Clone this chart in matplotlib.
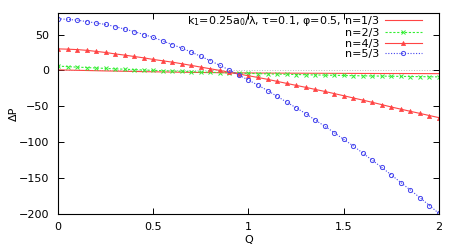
import numpy as np
import matplotlib
matplotlib.use("Agg")
import matplotlib.pyplot as plt

plt.rcParams['font.family'] = ['DejaVu Sans']
plt.rcParams['mathtext.fontset'] = 'dejavusans'
plt.rcParams['font.size'] = 8

# Q grid
q = [0.0, 0.05, 0.1, 0.15, 0.2, 0.25, 0.3, 0.35, 0.4, 0.45, 0.5, 0.55, 0.6, 0.65,
     0.7, 0.75, 0.8, 0.85, 0.9, 0.95, 1.0, 1.05, 1.1, 1.15, 1.2, 1.25, 1.3, 1.35,
     1.4, 1.45, 1.5, 1.55, 1.6, 1.65, 1.7, 1.75, 1.8, 1.85, 1.9, 1.95, 2.0]

dp_n13 = [0.8, 0.5, 0.2, -0.1, -0.4, -0.7, -0.9, -1.2, -1.4, -1.7, -1.9, -2.1, -2.3,
          -2.5, -2.7, -2.85, -3.0, -3.15, -3.3, -3.4, -3.5, -3.6, -3.7, -3.75, -3.8,
          -3.85, -3.9, -3.95, -4.0, -4.05, -4.1, -4.15, -4.2, -4.25, -4.3, -4.3, -4.3,
          -4.35, -4.4, -4.45, -4.5]
dp_n23 = [6.0, 5.3, 4.6, 4.0, 3.4, 2.8, 2.2, 1.7, 1.1, 0.6, 0.1, -0.4, -0.9, -1.3,
          -1.8, -2.2, -2.6, -3.0, -3.4, -3.8, -4.1, -4.5, -4.8, -5.1, -5.4, -5.7,
          -6.0, -6.3, -6.5, -6.8, -7.0, -7.3, -7.5, -7.7, -7.9, -8.1, -8.3, -8.5,
          -8.6, -8.8, -9.0]
dp_n43 = [30.0, 29.6, 29.0, 28.0, 26.5, 25.0, 23.0, 21.3, 19.4, 17.5, 15.3, 13.4,
          11.5, 9.3, 7.0, 4.6, 2.3, 0.0, -2.6, -5.0, -7.4, -9.8, -12.4, -15.2, -18.0,
          -20.8, -23.5, -26.4, -29.2, -32.2, -35.2, -38.3, -41.3, -44.4, -47.6,
          -50.9, -53.9, -56.9, -59.8, -62.8, -65.7]
dp_n53 = [72.0, 71.0, 70.0, 68.0, 66.0, 64.0, 61.0, 57.5, 54.0, 50.0, 46.0, 41.0,
          36.0, 31.0, 25.5, 19.5, 13.5, 7.0, 0.5, -6.5, -13.5, -20.5, -28.0, -36.0,
          -44.0, -52.0, -60.0, -69.0, -77.5, -86.5, -96.0, -105.0, -115.0, -125.0,
          -135.0, -145.5, -156.0, -166.5, -177.0, -188.0, -199.0]

xticks = [0, 0.5, 1, 1.5, 2]
xticklabels = ['0', '0.5', '1', '1.5', '2']
yticks = [50, 0, -50, -100, -150, -200]

fig = plt.figure(figsize=(4.64, 2.49), dpi=100)
ax = fig.add_axes([0.125, 0.14, 0.821, 0.808])

ax.axhline(0, color='#bbbbbb', ls=':', lw=0.7, zorder=0)

ax.plot(q, dp_n13, color='#ff4444', lw=0.8,
        label=r'k$_1$=0.25a$_0$/λ, τ=0.1, φ=0.5, n=1/3')
ax.plot(q, dp_n23, color='#33ee33', lw=0.8, ls=(0, (2, 1.5)), marker='x', ms=3,
        mew=0.7, label='n=2/3')
ax.plot(q, dp_n43, color='#ff4444', lw=0.8, marker='^', ms=3, mew=0.5,
        label='n=4/3')
ax.plot(q, dp_n53, color='#4444ee', lw=0.8, ls=(0, (1, 1.5)), marker='o', ms=3,
        mfc='none', mew=0.7, label='n=5/3')

ax.set_xlim(0, 2)
ax.set_ylim(-200, 80)
ax.set_xticks(xticks)
ax.set_xticklabels(xticklabels)
ax.set_yticks(yticks)
ax.tick_params(direction='in', top=True, right=True, length=4, width=0.7, pad=6)
for s in ax.spines.values():
    s.set_linewidth(0.8)

ax.set_xlabel('Q', labelpad=2)
ax.set_ylabel('ΔP', labelpad=0)

ax.legend(loc='upper right', bbox_to_anchor=(0.958, 1.0), frameon=False,
          markerfirst=False, handlelength=3.4, handletextpad=0.5,
          labelspacing=0.05, borderaxespad=0.0, borderpad=0.05, fontsize=8)

fig.savefig('out.png', dpi=100)
